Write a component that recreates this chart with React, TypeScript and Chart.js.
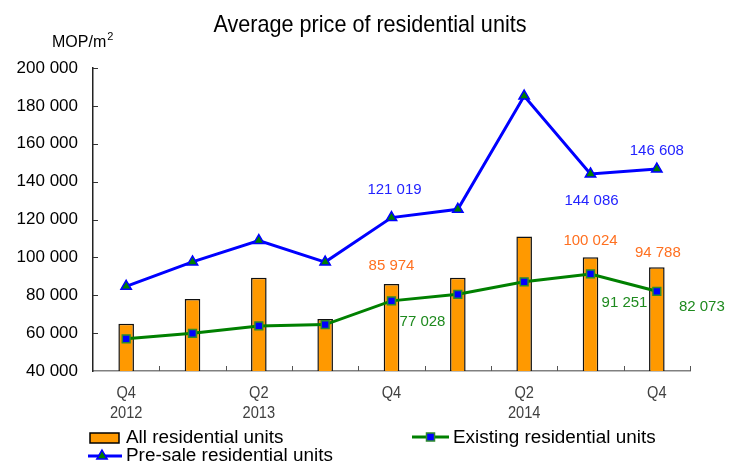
import React, { useEffect, useRef } from 'react';
import { Chart, registerables } from 'chart.js';

Chart.register(...registerables);

// ---------- data ----------
const categories = ['Q4 2012', 'Q1 2013', 'Q2 2013', 'Q3 2013', 'Q4 2013', 'Q1 2014', 'Q2 2014', 'Q3 2014', 'Q4 2014'];
const xTickLabels: string[][] = [['Q4', '2012'], [], ['Q2', '2013'], [], ['Q4'], [], ['Q2', '2014'], [], ['Q4']];
const allUnits = [65000, 78000, 89300, 67400, 85974, 89300, 111000, 100024, 94788];
const existingUnits = [57000, 59900, 63800, 64500, 77028, 80500, 87100, 91251, 82073];
const presaleUnits = [84700, 97600, 108900, 97500, 121019, 125400, 185200, 144086, 146608];
const labeledIndices = [4, 7, 8];
const yMin = 40000;
const yMax = 200000;
const yStep = 20000;

const chartTitle = 'Average price of residential units';
const unitLabel = 'MOP/m';
const legendAll = 'All residential units';
const legendExisting = 'Existing residential units';
const legendPresale = 'Pre-sale residential units';

// ---------- styles ----------
const SANS = '"Liberation Sans", Arial, sans-serif';
const TITLE_SCALE = 0.9; // emulate a narrow face by horizontal compression
const TICK_SCALE = 0.86;
const ORANGE = '#FF9900';
const BLUE = '#0000FF';
const GREEN = '#008000';
const LBL_ORANGE = '#FF7020';
const LBL_BLUE = '#2323FF';
const LBL_GREEN = '#1E8A1E';

// label offsets (px) relative to the mark, per labelled index
const offsetsAll: Record<number, [number, number]> = { 4: [0, -18], 7: [0, -16], 8: [1, -14] };
const offsetsExisting: Record<number, [number, number]> = { 4: [31, 21], 7: [34, 29], 8: [45, 16] };
const offsetsPresale: Record<number, [number, number]> = { 4: [3, -28], 7: [1, 27], 8: [0, -18] };

const fmt = (v: number) => String(Math.round(v)).replace(/\B(?=(\d{3})+(?!\d))/g, ' ');

function narrowText(ctx: CanvasRenderingContext2D, text: string, x: number, y: number, sx: number) {
  ctx.save();
  ctx.translate(x, y);
  ctx.scale(sx, 1);
  ctx.fillText(text, 0, 0);
  ctx.restore();
}

const overlayPlugin = {
  id: 'overlay',
  afterDatasetsDraw(chart: any) {
    const ctx: CanvasRenderingContext2D = chart.ctx;
    const xs = chart.scales.x;
    const ys = chart.scales.y;
    ctx.save();
    ctx.font = `15px ${SANS}`;
    ctx.textAlign = 'center';
    ctx.textBaseline = 'middle';
    const series: [number[], Record<number, [number, number]>, string][] = [
      [allUnits, offsetsAll, LBL_ORANGE],
      [existingUnits, offsetsExisting, LBL_GREEN],
      [presaleUnits, offsetsPresale, LBL_BLUE],
    ];
    series.forEach(([data, offs, color]) => {
      ctx.fillStyle = color;
      labeledIndices.forEach((i) => {
        const px = xs.getPixelForValue(i);
        const py = ys.getPixelForValue(data[i]);
        const [dx, dy] = offs[i];
        ctx.fillText(fmt(data[i]), px + dx, py + dy);
      });
    });
    ctx.restore();
  },
  afterDraw(chart: any) {
    const ctx: CanvasRenderingContext2D = chart.ctx;
    const xs = chart.scales.x;
    const ys = chart.scales.y;
    const { left, bottom } = chart.chartArea;
    ctx.save();
    // inside tick marks
    ctx.strokeStyle = '#333';
    ctx.lineWidth = 1;
    ys.ticks.forEach((t: any) => {
      const py = Math.round(ys.getPixelForValue(t.value)) + 0.5;
      if (py >= bottom - 1) return;
      ctx.beginPath();
      ctx.moveTo(left, py);
      ctx.lineTo(left + 5, py);
      ctx.stroke();
    });
    ctx.strokeStyle = '#555';
    for (let i = 1; i <= categories.length; i++) {
      const px = Math.round(xs.getPixelForValue(i - 0.5)) + 0.5;
      ctx.beginPath();
      ctx.moveTo(px, bottom);
      ctx.lineTo(px, bottom - 5);
      ctx.stroke();
    }

    // x tick labels (narrow)
    ctx.fillStyle = '#404040';
    ctx.font = `17px ${SANS}`;
    ctx.textAlign = 'center';
    ctx.textBaseline = 'middle';
    xTickLabels.forEach((lines, i) => {
      const px = xs.getPixelForValue(i);
      lines.forEach((ln, k) => narrowText(ctx, ln, px, bottom + 22 + k * 20, TICK_SCALE));
    });

    // title
    ctx.fillStyle = '#000';
    ctx.font = `24px ${SANS}`;
    ctx.textAlign = 'center';
    ctx.textBaseline = 'alphabetic';
    narrowText(ctx, chartTitle, 370, 32, TITLE_SCALE);

    // unit label
    ctx.font = `16px ${SANS}`;
    ctx.textAlign = 'left';
    ctx.fillText(unitLabel, 52, 47);
    const w = ctx.measureText(unitLabel).width;
    ctx.font = `11px ${SANS}`;
    ctx.fillText('2', 52 + w + 1, 40);

    // legend
    ctx.font = `18.9px ${SANS}`;
    ctx.textBaseline = 'middle';
    ctx.fillStyle = ORANGE;
    ctx.fillRect(90, 433, 29, 10);
    ctx.strokeStyle = '#000';
    ctx.lineWidth = 1.5;
    ctx.strokeRect(90, 433, 29, 10);
    ctx.fillStyle = '#000';
    ctx.fillText(legendAll, 126, 438);
    // existing
    ctx.strokeStyle = GREEN;
    ctx.lineWidth = 3;
    ctx.beginPath();
    ctx.moveTo(412, 437);
    ctx.lineTo(449, 437);
    ctx.stroke();
    ctx.fillStyle = BLUE;
    ctx.fillRect(426.5, 433, 8, 8);
    ctx.strokeStyle = '#2E8B2E';
    ctx.lineWidth = 1.5;
    ctx.strokeRect(426.5, 433, 8, 8);
    ctx.fillStyle = '#000';
    ctx.fillText(legendExisting, 453, 438);
    // presale
    ctx.strokeStyle = BLUE;
    ctx.lineWidth = 3;
    ctx.beginPath();
    ctx.moveTo(88, 456);
    ctx.lineTo(122, 456);
    ctx.stroke();
    const tx = 102, ty = 456, r = 6;
    ctx.beginPath();
    ctx.moveTo(tx, ty - r);
    ctx.lineTo(tx + r * 0.866, ty + r / 2);
    ctx.lineTo(tx - r * 0.866, ty + r / 2);
    ctx.closePath();
    ctx.fillStyle = GREEN;
    ctx.fill();
    ctx.strokeStyle = BLUE;
    ctx.lineWidth = 1.5;
    ctx.stroke();
    ctx.fillStyle = '#000';
    ctx.fillText(legendPresale, 126, 456);
    ctx.restore();
  },
};

export default function App() {
  const canvasRef = useRef<HTMLCanvasElement | null>(null);

  useEffect(() => {
    if (!canvasRef.current) return;
    const chart = new Chart(canvasRef.current, {
      type: 'bar',
      data: {
        labels: categories,
        datasets: [
          {
            type: 'bar',
            label: legendAll,
            data: allUnits,
            backgroundColor: ORANGE,
            borderColor: '#111',
            borderWidth: 1.5,
            barPercentage: 0.235,
            categoryPercentage: 1,
            order: 3,
          } as any,
          {
            type: 'line',
            label: legendExisting,
            data: existingUnits,
            borderColor: GREEN,
            borderWidth: 3,
            tension: 0,
            pointStyle: 'rect',
            pointRadius: 5.5,
            pointBackgroundColor: BLUE,
            pointBorderColor: '#2E8B2E',
            pointBorderWidth: 1.5,
            order: 2,
          } as any,
          {
            type: 'line',
            label: legendPresale,
            data: presaleUnits,
            borderColor: BLUE,
            borderWidth: 3,
            tension: 0,
            pointStyle: 'triangle',
            pointRadius: 6,
            pointBackgroundColor: GREEN,
            pointBorderColor: BLUE,
            pointBorderWidth: 1.5,
            order: 1,
          } as any,
        ],
      },
      options: {
        responsive: false,
        animation: false,
        layout: { padding: { top: 68, right: 47, left: 0, bottom: 0 } },
        plugins: {
          legend: { display: false },
          title: { display: false },
          tooltip: { enabled: false },
        },
        scales: {
          x: {
            type: 'category',
            offset: true,
            grid: { display: false, drawTicks: false },
            border: { display: true, color: '#808080', width: 1.5 },
            ticks: { display: false },
            afterFit: (s: any) => {
              s.height = 92;
            },
          },
          y: {
            min: yMin,
            max: yMax,
            grid: { display: false, drawTicks: false },
            border: { display: true, color: '#222', width: 1.5 },
            ticks: {
              stepSize: yStep,
              padding: 15,
              color: '#000',
              font: { family: SANS, size: 17 },
              callback: (v: any) => fmt(Number(v)),
            },
            afterFit: (s: any) => {
              s.width = 93;
            },
          },
        },
      } as any,
      plugins: [overlayPlugin],
    });
    return () => chart.destroy();
  }, []);

  return (
    <div style={{ position: 'fixed', left: 0, top: 0, width: 737, height: 463, background: '#fff' }}>
      <canvas ref={canvasRef} width={737} height={463} style={{ display: 'block' }} />
    </div>
  );
}
